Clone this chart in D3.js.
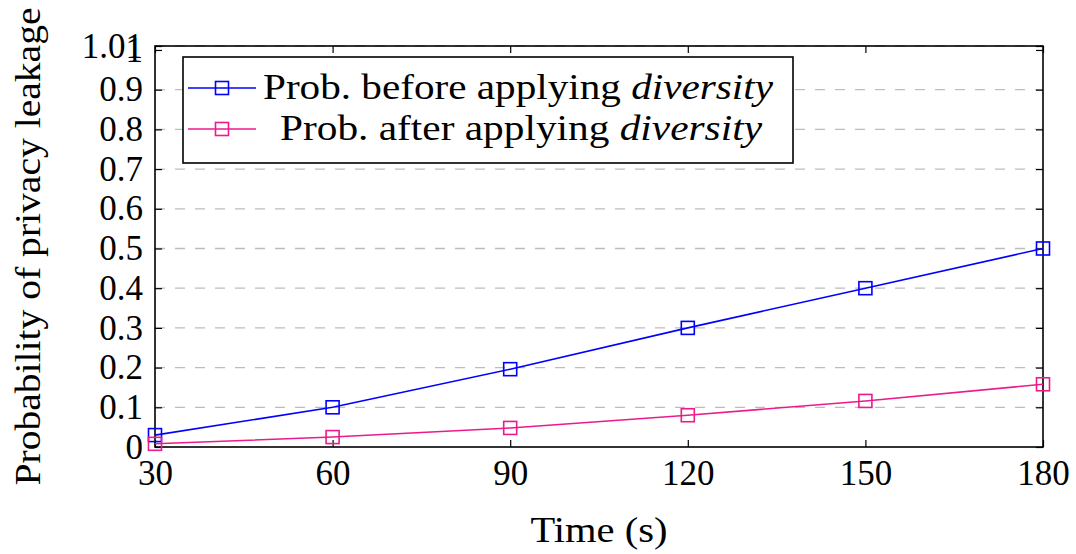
<!DOCTYPE html>
<html>
<head>
<meta charset="utf-8">
<script src="https://cdn.jsdelivr.net/npm/d3@7"></script>
<style>
  body { margin: 0; background: #fff; }
  svg text { font-family: "Liberation Serif", "DejaVu Serif", serif; fill: #000; }
</style>
</head>
<body>
<div id="chart"></div>
<script>
const width = 1076;
const height = 554;
const margin = { top: 46, right: 33, bottom: 107, left: 155 };

// data
const times = [30, 60, 90, 120, 150, 180];
const probBefore = [0.03, 0.1, 0.196, 0.3, 0.4, 0.5];
const probAfter = [0.008, 0.025, 0.048, 0.08, 0.116, 0.158];
const yTicks = [0, 0.1, 0.2, 0.3, 0.4, 0.5, 0.6, 0.7, 0.8, 0.9, 1, 1.01];
const seriesNames = ["Prob. before applying ", "Prob. after applying "];
const seriesColors = ["#0000ff", "#ec1a8c"];

const svg = d3.select("#chart").append("svg")
    .attr("width", width)
    .attr("height", height);

const x = d3.scaleLinear().domain([30, 180]).range([margin.left, width - margin.right]);
const y = d3.scaleLinear().domain([0, 1.01]).range([height - margin.bottom, margin.top]);

const x0 = x.range()[0], x1 = x.range()[1];
const yb = y.range()[0], yt = y.range()[1];

// ===== GRID =====
svg.append("g")
    .selectAll("line")
    .data(yTicks.filter(d => d > 0 && d !== 1))
    .join("line")
    .attr("x1", x0).attr("x2", x1)
    .attr("y1", d => y(d)).attr("y2", d => y(d))
    .attr("stroke", "#bdbdbd")
    .attr("stroke-width", 1.3)
    .attr("stroke-dasharray", "10,10");

// ===== AXES (ticks inside, mirrored) =====
const tk = 7;
const xAxis = svg.append("g")
    .attr("transform", `translate(0,${yb})`)
    .call(d3.axisBottom(x).tickValues(times).tickSize(-tk).tickPadding(13));
xAxis.select(".domain").remove();

const xAxisTop = svg.append("g")
    .attr("transform", `translate(0,${yt})`)
    .call(d3.axisTop(x).tickValues(times).tickSize(-tk).tickFormat(""));
xAxisTop.select(".domain").remove();

const yAxis = svg.append("g")
    .attr("transform", `translate(${x0},0)`)
    .call(d3.axisLeft(y).tickValues(yTicks).tickSize(-tk).tickPadding(12)
        .tickFormat(d => String(d)));
yAxis.select(".domain").remove();

const yAxisRight = svg.append("g")
    .attr("transform", `translate(${x1},0)`)
    .call(d3.axisRight(y).tickValues(yTicks).tickSize(-tk).tickFormat(""));
yAxisRight.select(".domain").remove();

svg.selectAll(".tick text")
    .attr("fill", "#000")
    .style("font-size", "35px");
svg.selectAll(".tick line").attr("stroke", "#000").attr("stroke-width", 1.2);

// frame
svg.append("rect")
    .attr("x", x0).attr("y", yt)
    .attr("width", x1 - x0).attr("height", yb - yt)
    .attr("fill", "none").attr("stroke", "#000").attr("stroke-width", 1.6);

// ===== LINES =====
const line = d3.line().x((d, i) => x(times[i])).y(d => y(d));
const series = [probBefore, probAfter];
const ms = 13;

series.forEach((vals, s) => {
    svg.append("path")
        .datum(vals)
        .attr("d", line)
        .attr("fill", "none")
        .attr("stroke", seriesColors[s])
        .attr("stroke-width", 1.6);
    svg.append("g")
        .selectAll("rect")
        .data(vals)
        .join("rect")
        .attr("x", (d, i) => x(times[i]) - ms / 2)
        .attr("y", d => y(d) - ms / 2)
        .attr("width", ms).attr("height", ms)
        .attr("fill", "none")
        .attr("stroke", seriesColors[s])
        .attr("stroke-width", 1.6);
});

// ===== LEGEND =====
const lg = svg.append("g");
lg.append("rect")
    .attr("x", 183).attr("y", 57)
    .attr("width", 610).attr("height", 106)
    .attr("fill", "#fff").attr("stroke", "#000").attr("stroke-width", 1.6);

const legendY = [88, 129];
const legendTextX = [263, 280];
const legendTextW = [510, 482];
seriesNames.forEach((name, s) => {
    const ly = legendY[s];
    lg.append("line")
        .attr("x1", 188).attr("x2", 256)
        .attr("y1", ly).attr("y2", ly)
        .attr("stroke", seriesColors[s]).attr("stroke-width", 1.6);
    lg.append("rect")
        .attr("x", 222 - 6.5).attr("y", ly - 6.5)
        .attr("width", 13).attr("height", 13)
        .attr("fill", "none").attr("stroke", seriesColors[s]).attr("stroke-width", 1.6);
    const t = lg.append("text")
        .attr("x", legendTextX[s]).attr("y", ly + 11)
        .attr("textLength", legendTextW[s])
        .attr("lengthAdjust", "spacingAndGlyphs")
        .style("font-size", "35px");
    t.append("tspan").text(name);
    t.append("tspan").style("font-style", "italic").text("diversity");
});

// ===== AXIS TITLES =====
svg.append("text")
    .attr("x", (x0 + x1) / 2).attr("y", 542)
    .attr("text-anchor", "middle")
    .attr("textLength", 137)
    .attr("lengthAdjust", "spacingAndGlyphs")
    .style("font-size", "35px")
    .text("Time (s)");

svg.append("text")
    .attr("transform", `translate(40,${(yt + yb) / 2}) rotate(-90)`)
    .attr("text-anchor", "middle")
    .attr("textLength", 478)
    .attr("lengthAdjust", "spacingAndGlyphs")
    .style("font-size", "35px")
    .text("Probability of privacy leakage");
</script>
</body>
</html>
